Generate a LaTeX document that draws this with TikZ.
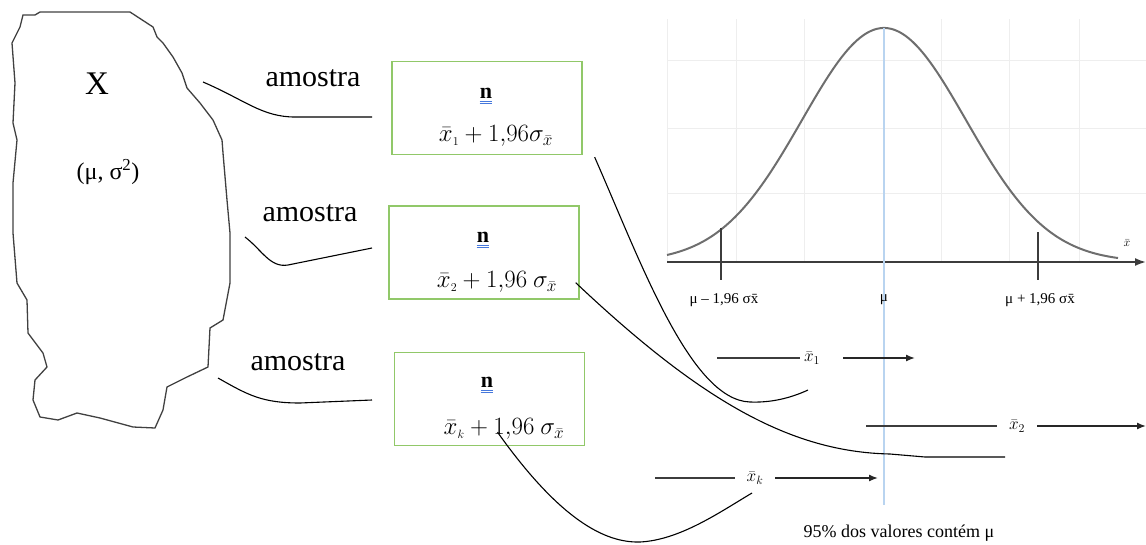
\documentclass[tikz,border=0pt]{standalone}
\usepackage{fontspec}
\setmainfont{Liberation Serif}
\usetikzlibrary{arrows.meta}
\definecolor{boxgreen}{RGB}{145,200,105}
\definecolor{muline}{RGB}{185,212,240}
\definecolor{curvegray}{RGB}{110,110,110}
\definecolor{axisgray}{RGB}{60,60,60}
\definecolor{gridgray}{RGB}{238,238,238}
\definecolor{spellblue}{RGB}{70,120,220}
\tikzset{
  sbox/.style={draw=boxgreen, line width=1.3pt, minimum width=190pt, minimum height=93pt, inner sep=0pt},
  conn/.style={draw=black, line width=1.1pt},
  lbl/.style={font=\fontsize{30}{34}\selectfont, inner sep=0pt},
  nlbl/.style={font=\fontsize{22}{24}\selectfont\bfseries, inner sep=0pt},
  form/.style={font=\fontsize{23.5}{26}\selectfont, inner sep=0pt},
  small/.style={font=\fontsize{15}{18}\selectfont, inner sep=0pt},
  xlbl/.style={font=\fontsize{18}{20}\selectfont, inner sep=1pt, fill=white},
  hline/.style={draw=axisgray, line width=1.4pt},
  harrow/.style={draw=black!85, line width=1.4pt, -{Latex[length=9pt,width=7pt]}},
}
\newcommand{\spell}[1]{\draw[spellblue, line width=0.9pt] ([yshift=-3pt]#1.base west) -- ([yshift=-3pt]#1.base east);
  \draw[spellblue, line width=0.9pt] ([yshift=-5.5pt]#1.base west) -- ([yshift=-5.5pt]#1.base east);}
\begin{document}
\begin{tikzpicture}[x=1pt,y=-1pt]
\useasboundingbox (0,0) rectangle (1146,544);
% population blob
\draw[line width=1.3pt, draw=black!75]
 (23,15) -- (35,15) -- (40,12) -- (130,12) -- (153,27) -- (157,37) -- (163,43) -- (173,57) -- (182,73) -- (187,88)
 -- (200,103) -- (213,120) -- (222,140) -- (223,153) -- (227,200) -- (230,233) -- (230,283) -- (223,320)
 -- (210,328) -- (208,367) -- (187,377) -- (167,387) -- (163,410) -- (155,428) -- (133,427) -- (100,418)
 -- (77,413) -- (58,420) -- (40,417) -- (33,400) -- (35,380) -- (47,367) -- (43,353) -- (28,333) -- (27,300)
 -- (17,283) -- (13,233) -- (13,183) -- (17,140) -- (13,123) -- (15,83) -- (12,43) -- (20,27) -- cycle;
\node[font=\fontsize{33}{36}\selectfont, inner sep=0pt] (X) at (97,84) {X};
\node[font=\fontsize{24}{28}\selectfont, inner sep=0pt] (par) at (108,172) {(μ, σ\textsuperscript{2})};

% amostra labels and connectors
\node[lbl] (am1) at (313,78) {amostra};
\node[lbl] (am2) at (310,213) {amostra};
\node[lbl] (am3) at (298,362) {amostra};
\coordinate (s1) at (203,82); \coordinate (e1) at (372,117);
\coordinate (s2) at (245,237); \coordinate (e2) at (372,248);
\coordinate (s3) at (218,378); \coordinate (e3) at (372,400);
\draw[conn] (s1) .. controls (245,100) and (262,117) .. (295,117) -- (e1);
\draw[conn] (s2) .. controls (262,250) and (270,268) .. (288,265) -- (e2);
\draw[conn] (s3) .. controls (248,395) and (262,403) .. (300,403) -- (e3);

% sample boxes
\node[sbox] (b1) at (487,108) {};
\node[sbox] (b2) at (484,252.5) {};
\node[sbox] (b3) at (489.5,399) {};
\node[nlbl] (n1) at (486,93) {n};
\node[nlbl] (n2) at (483,237) {n};
\node[nlbl] (n3) at (487,382) {n};
\spell{n1}\spell{n2}\spell{n3}
\node[form] (f1) at (496,136) {$\bar{x}_{\scriptscriptstyle 1} + 1{,}96\sigma_{\bar{x}}$};
\node[form] (f2) at (497,282) {$\bar{x}_{\scriptscriptstyle 2} + 1{,}96\ \sigma_{\bar{x}}$};
\node[form] (f3) at (504,429) {$\bar{x}_{\scriptscriptstyle k} + 1{,}96\ \sigma_{\bar{x}}$};

% grid
\foreach \gx in {667,736,804,941,1009,1079} \draw[gridgray, line width=0.8pt] (\gx,19) -- (\gx,262);
\foreach \gy in {60,128,193} \draw[gridgray, line width=0.8pt] (667,\gy) -- (1146,\gy);

% normal curve and axis
\draw[curvegray, line width=2pt] plot[domain=667:1118, samples=160, smooth] (\x, {262-234*exp(-((\x-884)/82)^2/2)});
\coordinate (ax0) at (667,262); \coordinate (ax1) at (1146,262);
\draw[axisgray, line width=1.8pt, -{Latex[length=11pt,width=8pt]}] (ax0) -- (ax1);
\draw[axisgray, line width=1.2pt] (721,228) -- (721,280);
\draw[axisgray, line width=1.2pt] (1038,232) -- (1038,280);
\draw[muline, line width=2pt] (884,28) -- (884,505);
\node[font=\fontsize{12}{14}\selectfont, inner sep=0pt] (xb) at (1127,243) {$\bar{x}$};
\node[small] (lm) at (724,300) {μ – 1,96 σx̄};
\node[small] (mu) at (884,300) {μ};
\node[small] (lp) at (1040,300) {μ + 1,96 σx̄};

% interval arrows
\node[xlbl] (xl1) at (812,358) {$\bar{x}_{\scriptstyle 1}$};
\coordinate (i1a) at (717,358); \coordinate (i1b) at (915,358);
\draw[hline] (i1a) -- (800,358);
\draw[harrow] (843,358) -- (i1b);
\node[xlbl] (xl2) at (1017,426) {$\bar{x}_{\scriptstyle 2}$};
\coordinate (i2a) at (866,426); \coordinate (i2b) at (1146,426);
\draw[hline] (i2a) -- (997,426);
\draw[harrow] (1037,426) -- (i2b);
\node[xlbl] (xlk) at (755,478) {$\bar{x}_{\scriptstyle k}$};
\coordinate (ika) at (655,478); \coordinate (ikb) at (878,478);
\draw[hline] (ika) -- (735,478);
\draw[harrow] (775,478) -- (ikb);

% connectors from boxes
\coordinate (c1e) at (808,390);
\coordinate (c2e) at (1005,457);
\coordinate (c3e) at (752,493);
\draw[conn] ([xshift=12pt,yshift=-2pt]b1.south east) .. controls (640,260) and (690,400) .. (750,402) .. controls (775,403) and (795,396) .. (c1e);
\draw[conn] ([xshift=-4pt,yshift=17pt]b2.south east) .. controls (700,400) and (790,452) .. (890,454) -- (925,457) -- (c2e);
\draw[conn] ([xshift=8pt,yshift=14pt]b3.south) .. controls (560,520) and (605,543) .. (640,542) .. controls (680,540) and (720,512) .. (c3e);

\node[font=\fontsize{18}{20}\selectfont, inner sep=0pt] (cap) at (899,533) {95\% dos valores contém μ};
\end{tikzpicture}
\end{document}
